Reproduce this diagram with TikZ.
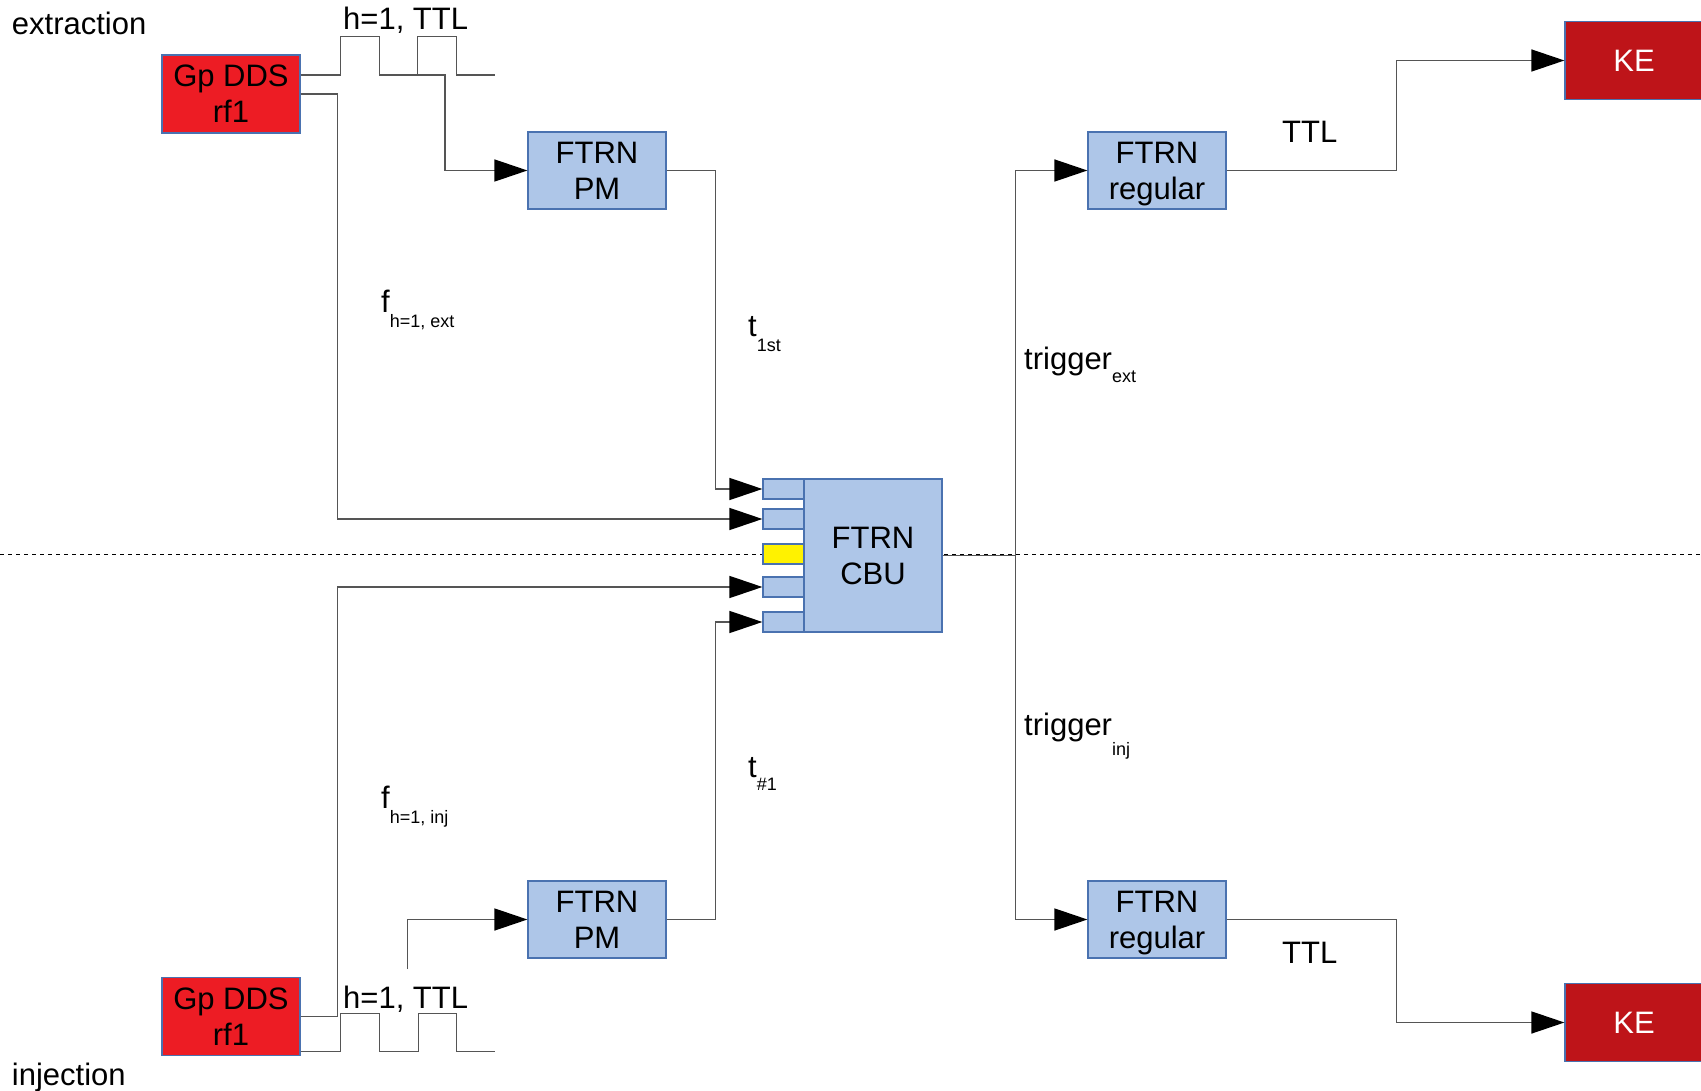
\documentclass[tikz,border=0pt]{standalone}
\usepackage{fontspec}
\setmainfont{Liberation Sans}
\usetikzlibrary{arrows.meta}
\definecolor{ddsred}{HTML}{ED1C24}
\definecolor{kered}{HTML}{BE1419}
\definecolor{boxblue}{HTML}{AEC6E8}
\definecolor{boxedge}{HTML}{4A72B0}
\definecolor{portyellow}{HTML}{FFF200}
\definecolor{wirecol}{HTML}{555555}
\newcommand{\sbs}[2]{\raisebox{-#1pt}{\fontsize{18}{20}\selectfont #2}}
\tikzset{
 box/.style={draw=boxedge, line width=1.2pt, inner sep=0pt, minimum width=138pt, minimum height=77pt, align=center, font=\fontsize{31}{36}\selectfont},
 dds/.style={box, fill=ddsred, minimum height=78pt},
 ke/.style={box, fill=kered, text=white, minimum height=78pt},
 ftrn/.style={box, fill=boxblue},
 port/.style={draw=boxedge, line width=1.2pt, fill=boxblue, inner sep=0pt, minimum width=41pt, minimum height=20pt},
 wire/.style={draw=wirecol, line width=1.5pt},
 arr/.style={wire, -{Triangle[length=33pt,width=22pt,fill=black,color=black]}},
 lbl/.style={anchor=base west, inner sep=0pt, font=\fontsize{31}{36}\selectfont},
}
\begin{document}
\begin{tikzpicture}[x=1pt,y=-1pt]
\useasboundingbox (0,0) rectangle (1701,1091);
% dashed separator
\coordinate (dl) at (0,554);
\coordinate (dr) at (1701,554);
\draw[black, line width=1pt, dash pattern=on 4pt off 4pt] (dl) -- (dr);
% boxes
\node[dds] (ddsE) at (231,94) {Gp DDS\\rf1};
\node[dds] (ddsI) at (231,1016.5) {Gp DDS\\rf1};
\node[ftrn] (pmE) at (597,170.5) {FTRN\\PM};
\node[ftrn] (pmI) at (597,919.5) {FTRN\\PM};
\node[port] (p1) at (783.5,489) {};
\node[port] (p2) at (783.5,519) {};
\node[port, fill=portyellow] (p3) at (783.5,554) {};
\node[port] (p4) at (783.5,587) {};
\node[port] (p5) at (783.5,622) {};
\node[ftrn, minimum height=153pt] (cbu) at (873,555.5) {FTRN\\CBU};
\node[ftrn, text depth=0pt] (regE) at (1157,170.5) {FTRN\\regular};
\node[ftrn, text depth=0pt] (regI) at (1157,919.5) {FTRN\\regular};
\node[ke] (keE) at (1634,60.5) {KE};
\node[ke] (keI) at (1634,1022.5) {KE};
% pulse trains
\draw[wire] ([yshift=19pt]ddsE.east) -- ++(40,0) -- ++(0,-38.3) -- ++(39,0) -- ++(0,38.3) -- ++(38,0) -- ++(0,-38.3) -- ++(39,0) -- ++(0,38.3) -- ++(38,0);
\draw[wire] ([yshift=-35pt]ddsI.east) -- ++(40,0) -- ++(0,-38) -- ++(39,0) -- ++(0,38) -- ++(38.7,0) -- ++(0,-38) -- ++(38,0) -- ++(0,38) -- ++(38.3,0);
% connectors
\coordinate (tapE) at (398,75);
\coordinate (tapI) at (407.5,969);
\draw[arr] (tapE) -- ++(47,0) |- (pmE.west);
\draw[arr] (tapI) |- (pmI.west);
\draw[arr] (ddsE.east) -- ++(37,0) |- (p2.west);
\draw[arr] (ddsI.east) -- ++(37,0) |- (p4.west);
\draw[arr] (pmE.east) -- ++(49,0) |- (p1.west);
\draw[arr] (pmI.east) -- ++(49,0) |- (p5.west);
\draw[arr] (cbu.east) -- ++(73,0) |- (regE.west);
\draw[arr] (cbu.east) -- ++(73,0) |- (regI.west);
\draw[arr] (regE.east) -- ++(170,0) |- (keE.west);
\draw[arr] (regI.east) -- ++(170,0) |- (keI.west);
% labels
\node[lbl] (extr) at (11.7,35) {extraction};
\node[lbl] (injl) at (11.7,1085) {injection};
\node[lbl] (httlE) at (343,30) {h=1, TTL};
\node[lbl] (httlI) at (343,1008) {h=1, TTL};
\node[lbl] (fE) at (381,313) {f\sbs{15}{h=1, ext}};
\node[lbl] (tA) at (748,336.7) {t\sbs{15}{1st}};
\node[lbl] (trE) at (1024,370) {trigger\sbs{13}{ext}};
\node[lbl] (fI) at (381,808) {f\sbs{15}{h=1, inj}};
\node[lbl] (tB) at (748,777) {t\sbs{13}{\#1}};
\node[lbl] (trI) at (1024,735) {trigger\sbs{20}{inj}};
\node[lbl] (ttlE) at (1282,143) {TTL};
\node[lbl] (ttlI) at (1282,963) {TTL};
\end{tikzpicture}
\end{document}
